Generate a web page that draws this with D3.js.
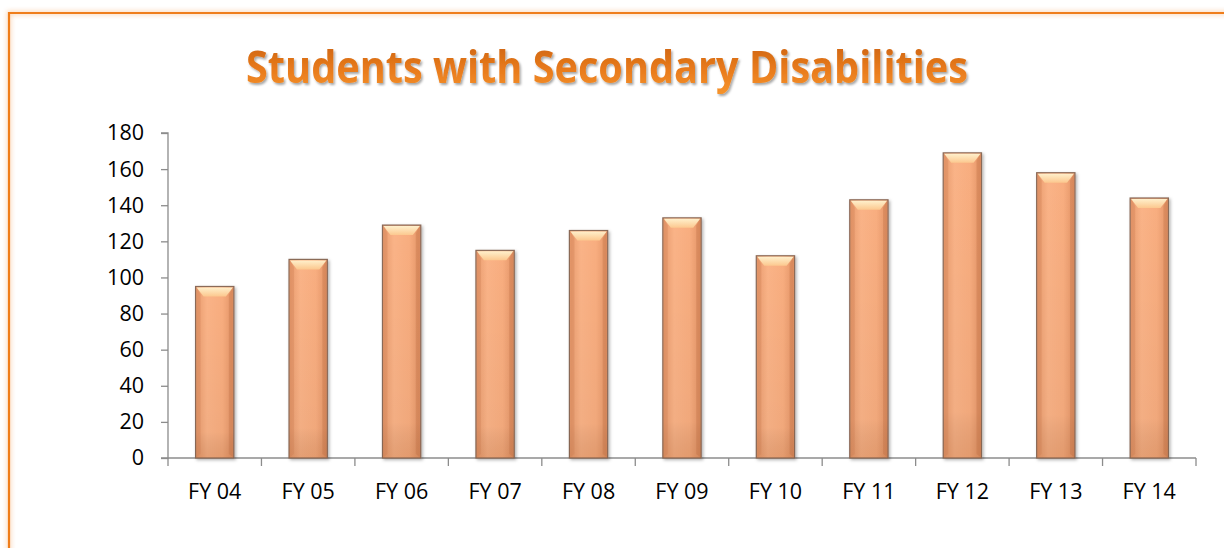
<!DOCTYPE html>
<html><head><meta charset="utf-8">
<script src="https://cdn.jsdelivr.net/npm/d3@7"></script>
<style>body{margin:0;background:#fff}svg{display:block}</style>
</head><body>
<script>
const categories = ["FY 04","FY 05","FY 06","FY 07","FY 08","FY 09","FY 10","FY 11","FY 12","FY 13","FY 14"];
const values = [95,110,129,115,126,133,112,143,169,158,144];
const yTicks = [0,20,40,60,80,100,120,140,160,180];
const title = "Students with Secondary Disabilities";

const W=1224,H=548;
const svg=d3.select("body").append("svg").attr("width",W).attr("height",H);
const defs=svg.append("defs");

const glow=defs.append("filter").attr("id","glow").attr("x","-5%").attr("y","-5%").attr("width","110%").attr("height","110%");
glow.append("feGaussianBlur").attr("stdDeviation",2.5);

const tshadow=defs.append("filter").attr("id","tshadow").attr("x","-5%").attr("y","-20%").attr("width","110%").attr("height","150%");
tshadow.append("feDropShadow").attr("dx",1.5).attr("dy",2).attr("stdDeviation",1.2).attr("flood-color","#000").attr("flood-opacity",0.35);

const tg=defs.append("linearGradient").attr("id","tgrad").attr("x1",0).attr("y1",0).attr("x2",0).attr("y2",1);
tg.append("stop").attr("offset","0%").attr("stop-color","#c65f0c");
tg.append("stop").attr("offset","55%").attr("stop-color","#e87a1c");
tg.append("stop").attr("offset","100%").attr("stop-color","#f7962e");

const bg=defs.append("linearGradient").attr("id","bgrad").attr("x1",0).attr("y1",0).attr("x2",1).attr("y2",0);
bg.append("stop").attr("offset","0%").attr("stop-color","#e89a6c");
bg.append("stop").attr("offset","30%").attr("stop-color","#fab387");
bg.append("stop").attr("offset","70%").attr("stop-color","#f8ad7f");
bg.append("stop").attr("offset","100%").attr("stop-color","#e29264");
const bv=defs.append("linearGradient").attr("id","bvert").attr("x1",0).attr("y1",0).attr("x2",0).attr("y2",1);
bv.append("stop").attr("offset","0%").attr("stop-color","#000").attr("stop-opacity",0);
bv.append("stop").attr("offset","85%").attr("stop-color","#000").attr("stop-opacity",0.03);
bv.append("stop").attr("offset","100%").attr("stop-color","#7a3a10").attr("stop-opacity",0.16);
const tb=defs.append("linearGradient").attr("id","topbev").attr("x1",0).attr("y1",0).attr("x2",0).attr("y2",1);
tb.append("stop").attr("offset","0%").attr("stop-color","#fff3cf");
tb.append("stop").attr("offset","100%").attr("stop-color","#fcc98f");

const bshadow=defs.append("filter").attr("id","bshadow").attr("x","-30%").attr("y","-5%").attr("width","160%").attr("height","110%");
bshadow.append("feDropShadow").attr("dx",1.5).attr("dy",1.5).attr("stdDeviation",1.5).attr("flood-color","#000").attr("flood-opacity",0.3);

// border with glow
svg.append("path").attr("d",`M9,${H+5} L9,13 L${W+5},13`).attr("fill","none")
  .attr("stroke","#f4a460").attr("stroke-width",4).attr("opacity",0.45).attr("filter","url(#glow)");
svg.append("path").attr("d",`M9,${H+5} L9,13 L${W+5},13`).attr("fill","none")
  .attr("stroke","#ef7d1a").attr("stroke-width",2.2);

const x0=168,x1=1196,yTop=133,yBot=458;
const x=d3.scaleBand().domain(categories).range([x0,x1]).paddingInner(0.59).paddingOuter(0.295);
const y=d3.scaleLinear().domain([0,180]).range([yBot,yTop]);

svg.append("text").attr("x",607).attr("y",83).attr("text-anchor","middle")
  .attr("font-family","'Open Sans',sans-serif").attr("font-weight","bold").attr("font-size",44)
  .attr("textLength",722).attr("lengthAdjust","spacingAndGlyphs")
  .attr("fill","url(#tgrad)").attr("filter","url(#tshadow)").text(title);

// axes
const yAxis=svg.append("g").attr("transform",`translate(${x0},0)`)
  .call(d3.axisLeft(y).tickValues(yTicks).tickSize(7).tickPadding(17));
yAxis.select(".domain").attr("stroke","#8c8c8c").attr("stroke-width",1.3).attr("d",`M-7,${yTop}H0V${yBot}H-7`);
yAxis.selectAll(".tick line").attr("stroke","#8c8c8c").attr("stroke-width",1.3);
yAxis.selectAll(".tick text").attr("font-family","'Open Sans',sans-serif").attr("font-size",21.5).attr("fill","#000");

const xAxisG=svg.append("g").attr("transform",`translate(0,${yBot})`);
xAxisG.append("line").attr("x1",x0).attr("x2",x1).attr("stroke","#8c8c8c").attr("stroke-width",1.3);
const step=x.step();
xAxisG.selectAll("line.tk").data(d3.range(categories.length+1)).join("line").attr("class","tk")
  .attr("x1",i=>x0+i*step).attr("x2",i=>x0+i*step).attr("y1",0).attr("y2",8)
  .attr("stroke","#8c8c8c").attr("stroke-width",1.3);
xAxisG.selectAll("text").data(categories).join("text")
  .attr("x",d=>x(d)+x.bandwidth()/2).attr("y",41).attr("text-anchor","middle")
  .attr("font-family","'Open Sans',sans-serif").attr("font-size",21.5).attr("fill","#000").text(d=>d);

// bars
const bars=svg.append("g").selectAll("g").data(categories).join("g");
bars.append("rect").attr("x",d=>x(d)).attr("y",(d,i)=>y(values[i])).attr("width",x.bandwidth())
  .attr("height",(d,i)=>yBot-y(values[i])).attr("fill","url(#bgrad)").attr("stroke","#8a6a58").attr("stroke-width",1.2)
  .attr("filter","url(#bshadow)");
bars.append("rect").attr("x",d=>x(d)).attr("y",(d,i)=>y(values[i])).attr("width",x.bandwidth())
  .attr("height",(d,i)=>yBot-y(values[i])).attr("fill","url(#bvert)");
// bevel top
bars.append("path").attr("d",(d,i)=>{
  const bx=x(d),bw=x.bandwidth(),by=y(values[i]);
  return `M${bx+1},${by+1}H${bx+bw-1}L${bx+bw-8},${by+10}H${bx+8}Z`;
}).attr("fill","url(#topbev)").attr("opacity",0.95);
bars.append("path").attr("d",(d,i)=>{
  const bx=x(d),bw=x.bandwidth(),by=y(values[i]);
  return `M${bx+1},${by+1}L${bx+5},${by+8}V${yBot-4}L${bx+1},${yBot-1}Z`;
}).attr("fill","#c97a50").attr("opacity",0.3);
bars.append("path").attr("d",(d,i)=>{
  const bx=x(d),bw=x.bandwidth(),by=y(values[i]);
  return `M${bx+bw-1},${by+1}L${bx+bw-5},${by+8}V${yBot-4}L${bx+bw-1},${yBot-1}Z`;
}).attr("fill","#b86a40").attr("opacity",0.3);
</script>
</body></html>
